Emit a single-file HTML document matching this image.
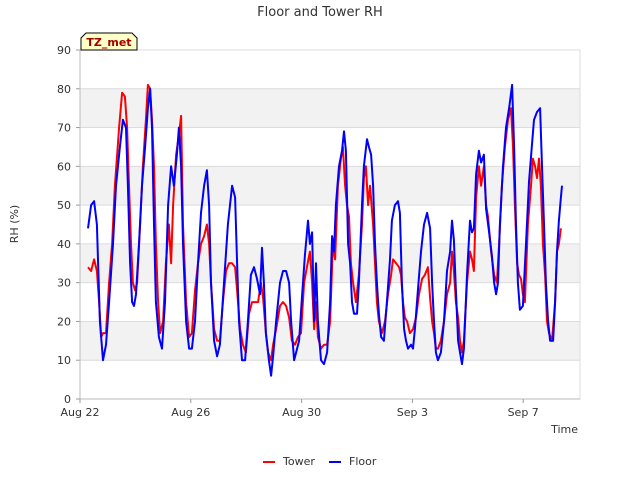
<!DOCTYPE html>
<html><head><meta charset="utf-8"><style>
body{margin:0;background:#fff;}
svg{display:block;font-family:"DejaVu Sans","Liberation Sans",sans-serif;}
</style></head><body>
<svg width="640" height="480" id="chart">
<text x="320" y="16" text-anchor="middle" font-size="13" fill="#333">Floor and Tower RH</text>
<g id="plot"></g>
<text transform="translate(18,224) rotate(-90)" text-anchor="middle" font-size="11" fill="#333">RH (%)</text>
<text x="578" y="433" text-anchor="end" font-size="11" fill="#333">Time</text>
<g>
<path d="M81,50 L81,38 L86,33 L132,33 L137,38 L137,50 Z" fill="#ffffc8" stroke="#000" stroke-width="1"/>
<text x="109" y="46" text-anchor="middle" font-size="11" font-weight="bold" fill="#a00000">TZ_met</text>
</g>
<g>
<g><line x1="263" y1="462" x2="275" y2="462" stroke="#f00" stroke-width="2"/><text x="283" y="465" font-size="11" fill="#333">Tower</text></g>
<g><line x1="329" y1="462" x2="341" y2="462" stroke="#00f" stroke-width="2"/><text x="349" y="465" font-size="11" fill="#333">Floor</text></g>
</g>
</svg>
<script>
const yTicks=[0,10,20,30,40,50,60,70,80,90];
const xTickDays=[0,4,8,12,16];
const xTickLabels=["Aug 22","Aug 26","Aug 30","Sep 3","Sep 7"];
const floorT=[0.29,0.40,0.51,0.61,0.72,0.83,0.94,1.05,1.19,1.30,1.44,1.55,1.66,1.73,1.81,1.88,1.95,2.02,2.13,2.24,2.35,2.45,2.53,2.60,2.67,2.74,2.85,2.96,3.07,3.18,3.29,3.39,3.50,3.57,3.65,3.72,3.83,3.94,4.04,4.15,4.26,4.37,4.48,4.58,4.66,4.73,4.84,4.95,5.05,5.20,5.34,5.49,5.60,5.67,5.74,5.85,5.96,6.06,6.17,6.28,6.39,6.50,6.57,6.64,6.71,6.82,6.90,6.97,7.08,7.22,7.33,7.44,7.55,7.62,7.73,7.80,7.91,8.01,8.12,8.23,8.30,8.38,8.45,8.52,8.59,8.70,8.81,8.92,9.03,9.10,9.17,9.24,9.35,9.46,9.53,9.60,9.68,9.75,9.82,9.89,10.00,10.07,10.18,10.25,10.36,10.43,10.51,10.58,10.65,10.72,10.79,10.87,10.97,11.08,11.19,11.26,11.37,11.48,11.55,11.62,11.70,11.77,11.84,11.95,12.02,12.09,12.20,12.31,12.42,12.53,12.64,12.71,12.78,12.85,12.92,13.03,13.14,13.25,13.36,13.43,13.50,13.57,13.65,13.72,13.79,13.86,13.97,14.08,14.15,14.22,14.30,14.40,14.48,14.58,14.66,14.77,14.87,14.95,15.02,15.09,15.16,15.27,15.38,15.49,15.60,15.67,15.74,15.81,15.88,15.99,16.10,16.21,16.32,16.39,16.50,16.61,16.68,16.75,16.82,16.90,16.97,17.08,17.15,17.22,17.29,17.36,17.40];
const floorV=[44,50,51,45,20,10,14,25,40,55,65,72,70,55,35,25,24,27,40,55,65,75,80,70,45,25,16,13,25,50,60,55,63,70,60,40,20,13,13,20,35,48,55,59,50,30,15,11,14,30,45,55,52,35,20,10,10,20,32,34,31,27,39,30,17,10,6,11,20,30,33,33,30,20,10,12,15,26,37,46,40,43,20,35,20,10,9,12,25,42,38,50,60,64,69,64,40,35,25,22,22,30,50,60,67,65,63,55,40,30,22,16,15,25,36,46,50,51,48,30,18,15,13,14,13,18,28,38,45,48,44,30,20,12,10,12,20,33,38,46,41,28,15,12,9,13,32,46,43,44,58,64,61,63,49,43,37,30,27,30,45,60,70,75,81,65,45,30,23,24,40,56,66,72,74,75,60,45,30,20,15,15,25,38,46,52,55];
const towerT=[0.29,0.40,0.51,0.61,0.69,0.76,0.83,0.94,1.05,1.16,1.26,1.41,1.52,1.62,1.70,1.77,1.84,1.91,1.99,2.06,2.17,2.27,2.38,2.45,2.53,2.60,2.67,2.74,2.82,2.89,3.00,3.10,3.21,3.29,3.36,3.47,3.57,3.65,3.72,3.83,3.94,4.04,4.15,4.26,4.37,4.48,4.58,4.66,4.73,4.84,4.95,5.05,5.16,5.27,5.38,5.49,5.60,5.67,5.78,5.88,5.99,6.10,6.21,6.32,6.43,6.53,6.61,6.71,6.79,6.90,6.97,7.08,7.22,7.33,7.44,7.55,7.65,7.76,7.87,7.98,8.09,8.19,8.30,8.38,8.45,8.52,8.59,8.70,8.81,8.92,9.03,9.13,9.21,9.31,9.42,9.49,9.57,9.64,9.71,9.78,9.86,9.96,10.07,10.18,10.25,10.32,10.40,10.47,10.58,10.65,10.72,10.79,10.90,11.01,11.12,11.23,11.30,11.41,11.52,11.59,11.66,11.73,11.81,11.91,12.02,12.13,12.24,12.35,12.45,12.56,12.64,12.71,12.78,12.85,12.92,13.03,13.14,13.25,13.36,13.43,13.50,13.57,13.65,13.72,13.79,13.86,13.97,14.08,14.15,14.22,14.30,14.40,14.48,14.58,14.66,14.73,14.84,14.95,15.05,15.13,15.23,15.34,15.45,15.56,15.63,15.70,15.78,15.85,15.92,15.99,16.06,16.17,16.28,16.35,16.43,16.50,16.57,16.64,16.71,16.79,16.86,16.93,17.04,17.15,17.22,17.29,17.36];
const towerV=[34,33,36,33,25,16,17,17,30,40,55,70,79,78,70,55,40,30,28,30,45,60,72,81,80,72,60,40,25,17,20,35,45,35,50,63,68,73,45,25,16,17,28,35,40,42,45,40,30,18,15,15,25,33,35,35,34,28,18,14,12,22,25,25,25,30,26,17,12,10,14,18,24,25,24,21,15,14,16,17,30,34,38,30,18,25,16,13,14,14,20,40,36,55,62,65,55,50,47,35,30,25,32,45,57,60,50,55,45,35,25,20,17,20,27,32,36,35,34,32,25,21,20,17,18,21,27,31,32,34,26,20,17,13,13,15,20,27,30,38,33,25,21,15,12,15,30,38,36,33,52,60,55,60,50,47,38,32,30,40,55,65,72,75,65,50,35,32,31,27,25,45,55,62,60,57,62,55,40,32,20,17,15,25,38,40,44];

const L=80,R=580,T=50,B=399,yMax=90,dayPx=27.7;
const xs=d=>L+d*dayPx;
const ys=v=>B-v/yMax*(B-T);
const NS="http://www.w3.org/2000/svg";
const g=document.getElementById('plot');
function mk(tag,attrs){const e=document.createElementNS(NS,tag);for(const k in attrs)e.setAttribute(k,attrs[k]);g.appendChild(e);return e;}
for(let i=0;i<yTicks.length-1;i++){
  if(i%2===1){const b=mk('rect',{x:L,y:ys(yTicks[i+1]),width:R-L,height:ys(yTicks[i])-ys(yTicks[i+1]),fill:'#f2f2f2'});
  
  }
}
yTicks.forEach(v=>{
  const l=mk('line',{x1:L,x2:R,y1:ys(v),y2:ys(v),stroke:'#dcdcdc','stroke-width':1});
  
  
  const tk=mk('line',{x1:L-4,x2:L,y1:ys(v),y2:ys(v),stroke:'#999'});
  
  
  const t=mk('text',{x:L-9,y:ys(v)+4,'text-anchor':'end','font-size':11,fill:'#333'});t.textContent=v;
  
  
});
const fr=mk('rect',{x:L,y:T,width:R-L,height:B-T,fill:'none',stroke:'#dcdcdc'});


const ax=mk('line',{x1:L,x2:L,y1:T,y2:B,stroke:'#bbb'});


const bx=mk('line',{x1:L,x2:R,y1:B,y2:B,stroke:'#bbb'});


xTickDays.forEach((d,i)=>{
  const tk=mk('line',{x1:xs(d),x2:xs(d),y1:B,y2:B+4,stroke:'#999'});
  
  
  const t=mk('text',{x:xs(d),y:B+17,'text-anchor':'middle','font-size':11,fill:'#333'});t.textContent=xTickLabels[i];
  
  
});
function line(T_,V,color,name){
  const p=T_.map((t,i)=>xs(t).toFixed(1)+','+ys(V[i]).toFixed(1)).join(' ');
  const pl=mk('polyline',{points:p,fill:'none',stroke:color,'stroke-width':2,'stroke-linejoin':'round'});
  
  
}
line(towerT,towerV,'#ff0000','tower-line');
line(floorT,floorV,'#0000ff','floor-line');
</script>
</body></html>
